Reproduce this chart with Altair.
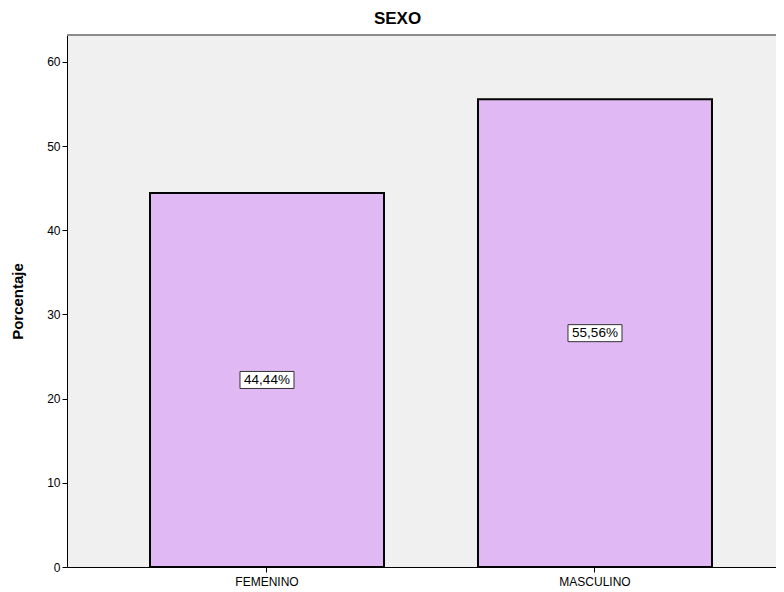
import altair as alt
import pandas as pd

categories = ["FEMENINO", "MASCULINO"]
values = [44.44, 55.56]
labels = ["44,44%", "55,56%"]
y_ticks = [0, 10, 20, 30, 40, 50, 60]

df = pd.DataFrame({"cat": categories, "val": values, "lab": labels})

FONT = "Liberation Sans"

x_enc = alt.X(
    "cat:N",
    sort=categories,
    scale=alt.Scale(paddingInner=0.2866, paddingOuter=0.2241, align=0.5646),
    axis=alt.Axis(title=None, labelAngle=0, labelFontSize=12, labelColor="#000000",
                  labelFont=FONT, tickSize=5, tickColor="#000000", domainColor="#000000",
                  domainWidth=1, labelPadding=4, grid=False),
)
y_scale = alt.Scale(domain=[0, 63.2], nice=False, zero=True)

bars = alt.Chart(df).mark_bar(fill="#E0B8F3", stroke="#000000", strokeWidth=2).encode(
    x=x_enc,
    y=alt.Y("val:Q", scale=y_scale,
            axis=alt.Axis(title="Porcentaje", values=y_ticks, grid=False, labelFontSize=12,
                          labelFont=FONT, labelColor="#000000", tickSize=5,
                          tickColor="#000000", domainColor="#000000", domainWidth=1,
                          titleFont=FONT, titleFontSize=15, titleFontWeight="bold",
                          titleColor="#000000", titleX=-42, labelPadding=2)),
)

box_shape = "M-1,-0.315L1,-0.315L1,0.315L-1,0.315Z"
boxes = alt.Chart(df).transform_calculate(mid="datum.val / 2").mark_point(
    shape=box_shape, size=2916, filled=True, fill="#FFFFFF", stroke="#333333",
    strokeWidth=1, opacity=1
).encode(
    x=alt.X("cat:N", sort=categories),
    y=alt.Y("mid:Q", scale=y_scale),
)

texts = alt.Chart(df).transform_calculate(mid="datum.val / 2").mark_text(
    font=FONT, fontSize=13.5, color="#000000", align="center", baseline="middle"
).encode(
    x=alt.X("cat:N", sort=categories),
    y=alt.Y("mid:Q", scale=y_scale),
    text="lab:N",
)

top_line = alt.Chart(df).mark_rule(color="#8C8C8C", strokeWidth=2).encode(
    x=alt.value(0), x2=alt.value(709), y=alt.value(0)
)

chart = alt.layer(bars, boxes, texts, top_line).properties(
    width=709,
    height=532,
    title=alt.TitleParams("SEXO", font=FONT, fontSize=17, fontWeight="bold",
                          color="#000000", anchor="middle", frame="group", dx=-24,
                          offset=9, dy=3),
    autosize=alt.AutoSizeParams(type="none"),
    padding={"left": 59, "top": 27, "right": 0, "bottom": 21},
    view=alt.ViewBackground(fill="#F0F0F0", strokeWidth=0),
).configure(background="#FFFFFF")

chart.save("out.html", embed_options={"renderer": "svg", "actions": False})
